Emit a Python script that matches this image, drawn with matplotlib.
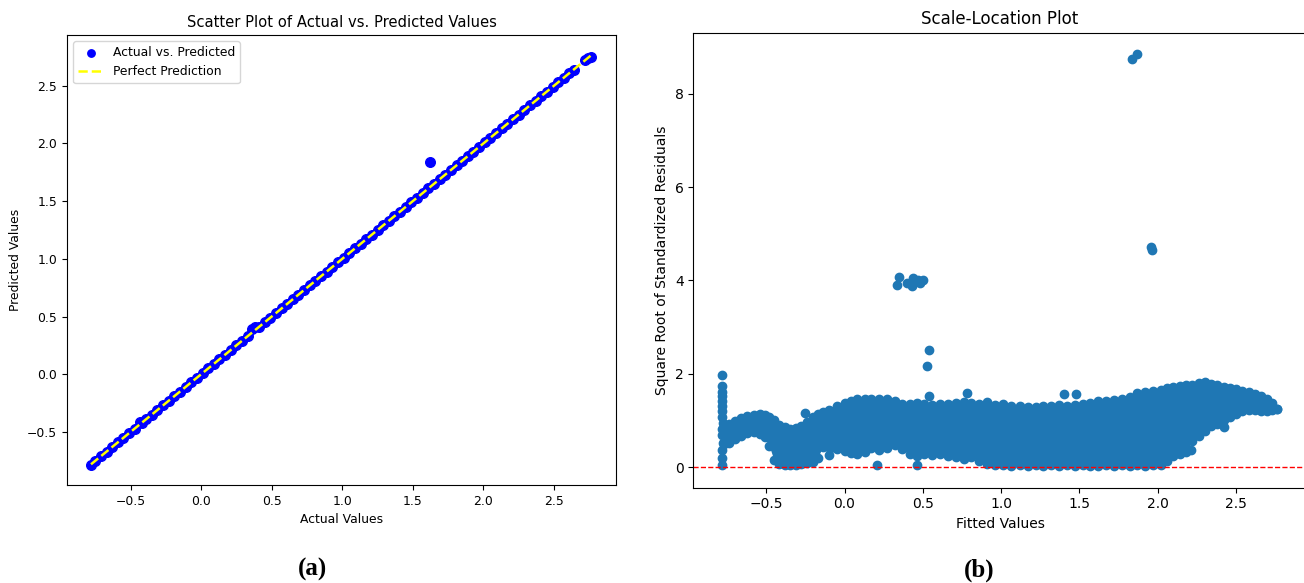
import numpy as np
import matplotlib
matplotlib.use('Agg')
import matplotlib.pyplot as plt

# ---- data ----

# (a) actual vs predicted, dense along the diagonal
actual = [-0.78, -0.75, -0.71, -0.67, -0.63, -0.59, -0.55, -0.51, -0.47, -0.43,
          -0.42, -0.39, -0.35, -0.31, -0.27, -0.23, -0.19, -0.15, -0.11, -0.07,
          -0.03, 0.01, 0.05, 0.09, 0.13, 0.17, 0.21, 0.25, 0.29, 0.33,
          0.36, 0.38, 0.41, 0.45, 0.49, 0.53, 0.57, 0.61, 0.65, 0.69,
          0.73, 0.77, 0.81, 0.85, 0.89, 0.93, 0.97, 1.01, 1.05, 1.09,
          1.13, 1.17, 1.21, 1.25, 1.29, 1.33, 1.37, 1.41, 1.45, 1.49,
          1.53, 1.57, 1.61, 1.62, 1.65, 1.69, 1.73, 1.77, 1.81, 1.85,
          1.89, 1.93, 1.97, 2.01, 2.05, 2.09, 2.13, 2.17, 2.21, 2.25,
          2.29, 2.33, 2.37, 2.41, 2.45, 2.49, 2.53, 2.57, 2.61, 2.64,
          2.72, 2.74, 2.76]
predicted = [-0.79, -0.75, -0.71, -0.67, -0.63, -0.59, -0.55, -0.51, -0.47, -0.41,
             -0.42, -0.39, -0.35, -0.31, -0.27, -0.23, -0.19, -0.15, -0.11, -0.07,
             -0.03, 0.01, 0.05, 0.09, 0.13, 0.17, 0.21, 0.25, 0.29, 0.33,
             0.39, 0.41, 0.41, 0.45, 0.49, 0.53, 0.57, 0.61, 0.65, 0.69,
             0.73, 0.77, 0.81, 0.85, 0.89, 0.93, 0.97, 1.01, 1.05, 1.09,
             1.13, 1.17, 1.21, 1.25, 1.29, 1.33, 1.37, 1.41, 1.45, 1.49,
             1.53, 1.57, 1.61, 1.84, 1.65, 1.69, 1.73, 1.77, 1.81, 1.85,
             1.89, 1.93, 1.97, 2.01, 2.05, 2.09, 2.13, 2.17, 2.21, 2.25,
             2.29, 2.33, 2.37, 2.41, 2.45, 2.49, 2.53, 2.57, 2.61, 2.64,
             2.72, 2.74, 2.75]

# (b) scale-location: the dense cloud as upper / lower edge of points
fitted = [-0.77, -0.74, -0.70, -0.66, -0.62, -0.58, -0.54, -0.51, -0.48, -0.45,
          -0.42, -0.38, -0.35, -0.31, -0.28, -0.24, -0.20, -0.17, -0.14, -0.10,
          -0.05, 0.00, 0.04, 0.08, 0.13, 0.17, 0.22, 0.27, 0.32, 0.37,
          0.42, 0.46, 0.51, 0.56, 0.61, 0.66, 0.71, 0.76, 0.81, 0.86,
          0.91, 0.96, 1.01, 1.06, 1.12, 1.17, 1.22, 1.27, 1.32, 1.37,
          1.42, 1.47, 1.52, 1.57, 1.62, 1.67, 1.72, 1.77, 1.82, 1.87,
          1.92, 1.97, 2.02, 2.06, 2.10, 2.14, 2.18, 2.22, 2.26, 2.30,
          2.34, 2.38, 2.42, 2.46, 2.50, 2.54, 2.58, 2.62, 2.66, 2.70,
          2.73, 2.76]
resid_top = [0.90, 0.92, 0.99, 1.06, 1.09, 1.12, 1.14, 1.11, 1.08, 1.00,
             0.91, 0.85, 0.82, 0.83, 0.88, 0.97, 1.08, 1.14, 1.18, 1.23,
             1.31, 1.38, 1.42, 1.45, 1.46, 1.45, 1.46, 1.45, 1.41, 1.36,
             1.35, 1.38, 1.36, 1.34, 1.36, 1.35, 1.38, 1.40, 1.37, 1.36,
             1.39, 1.33, 1.35, 1.32, 1.30, 1.29, 1.28, 1.30, 1.32, 1.33,
             1.32, 1.33, 1.35, 1.37, 1.41, 1.42, 1.44, 1.46, 1.50, 1.59,
             1.61, 1.64, 1.66, 1.69, 1.72, 1.74, 1.75, 1.77, 1.80, 1.83,
             1.78, 1.75, 1.72, 1.70, 1.67, 1.64, 1.60, 1.56, 1.52, 1.47,
             1.38, 1.25]
resid_bottom = [0.50, 0.52, 0.61, 0.67, 0.73, 0.75, 0.72, 0.64, 0.45, 0.15,
                0.06, 0.04, 0.05, 0.05, 0.06, 0.08, 0.12, 0.20, 0.44, 0.26,
                0.38, 0.34, 0.30, 0.28, 0.33, 0.40, 0.36, 0.42, 0.47, 0.38,
                0.28, 0.24, 0.28, 0.25, 0.28, 0.24, 0.22, 0.18, 0.22, 0.13,
                0.06, 0.04, 0.05, 0.03, 0.04, 0.02, 0.05, 0.03, 0.04, 0.02,
                0.04, 0.03, 0.05, 0.03, 0.02, 0.04, 0.03, 0.05, 0.02, 0.04,
                0.03, 0.04, 0.05, 0.13, 0.23, 0.29, 0.40, 0.55, 0.67, 0.78,
                0.88, 0.93, 1.02, 1.08, 1.13, 1.20, 1.22, 1.22, 1.21, 1.20,
                1.22, 1.24]

# vertical streak at the lowest fitted value
spike_x = [-0.78, -0.78, -0.785, -0.78, -0.78, -0.785, -0.78, -0.78, -0.775,
           -0.785, -0.78, -0.775, -0.785, -0.78, -0.78]
spike_y = [1.98, 1.74, 1.62, 1.52, 1.42, 1.32, 1.20, 1.08, 0.95,
           0.82, 0.68, 0.52, 0.36, 0.20, 0.05]

# isolated points
outlier_x = [-0.25, 0.21, 0.46, 0.54, 0.78, 1.40, 1.48, 2.18, 2.21, 2.42,
             0.335, 0.345, 0.40, 0.43, 0.44, 0.47, 0.50, 0.48,
             0.542, 0.526, 1.835, 1.865, 1.955, 1.96]
outlier_y = [1.17, 0.05, 0.05, 1.52, 1.58, 1.57, 1.56, 0.33, 0.37, 0.87,
             3.90, 4.08, 3.95, 3.88, 4.05, 4.02, 4.00, 3.95,
             2.51, 2.17, 8.74, 8.85, 4.72, 4.66]

# ---- figure ----
fig = plt.figure(figsize=(13.04, 5.83), dpi=100)
ax1 = fig.add_axes([0.0514, 0.168, 0.421, 0.772])
ax2 = fig.add_axes([0.5317, 0.1635, 0.4703, 0.7804])

# left panel (rendered a little smaller in the source)
fs = 8.9
ax1.scatter(actual, predicted, color='blue', s=48, label='Actual vs. Predicted')
ax1.plot([min(actual), max(actual)], [min(actual), max(actual)],
         color='yellow', linestyle='--', linewidth=1.8, label='Perfect Prediction')
ax1.set_title('Scatter Plot of Actual vs. Predicted Values', fontsize=10.6)
ax1.set_xlabel('Actual Values', fontsize=fs)
ax1.set_ylabel('Predicted Values', fontsize=fs)
ax1.tick_params(labelsize=fs)
ax1.legend(loc='upper left', fontsize=fs, markerscale=0.77)
ax1.set_xlim(-0.95, 2.94)
ax1.set_ylim(-0.96, 2.94)

# right panel
c = '#1f77b4'
ax2.fill_between(fitted, resid_bottom, resid_top, color=c, linewidth=0)
ax2.scatter(fitted, resid_top, color=c)
ax2.scatter(fitted, resid_bottom, color=c)
ax2.scatter(spike_x, spike_y, color=c)
ax2.scatter(outlier_x, outlier_y, color=c)
ax2.axhline(0, color='red', linestyle='--', linewidth=1)
ax2.set_title('Scale-Location Plot')
ax2.set_xlabel('Fitted Values')
ax2.set_ylabel('Square Root of Standardized Residuals')
ax2.set_xlim(-0.965, 2.95)
ax2.set_ylim(-0.44, 9.31)

# panel letters
fig.text(0.240, 0.024, '(a)', family='Liberation Serif', weight='bold',
         fontsize=18, ha='center', va='center')
fig.text(0.751, 0.022, '(b)', family='Liberation Serif', weight='bold',
         fontsize=18, ha='center', va='center')

plt.savefig('out.png', dpi=100)
